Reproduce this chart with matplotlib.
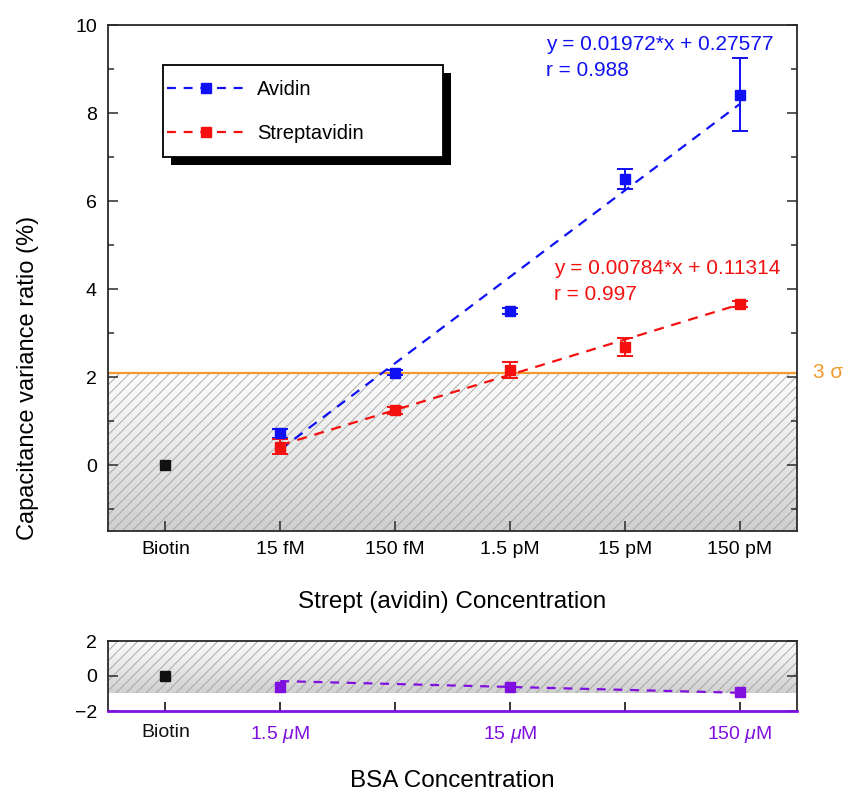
import matplotlib
matplotlib.use('Agg')
import matplotlib.pyplot as plt
import numpy as np
from matplotlib.lines import Line2D
from matplotlib.collections import LineCollection
from matplotlib.patches import Rectangle
from matplotlib.legend_handler import HandlerLine2D
import matplotlib.patheffects as pe
from matplotlib.colors import LinearSegmentedColormap

plt.rcParams['font.family'] = ['Liberation Sans', 'DejaVu Sans']
plt.rcParams['mathtext.fontset'] = 'custom'
plt.rcParams['mathtext.it'] = 'Liberation Sans:italic'
plt.rcParams['mathtext.rm'] = 'Liberation Sans'

# ---------------- data ----------------
categories = ['Biotin', '15 fM', '150 fM', '1.5 pM', '15 pM', '150 pM']
biotin_value = [0.0]
avidin = [0.72, 2.10, 3.50, 6.50, 8.42]
avidin_err = [0.10, 0.06, 0.07, 0.22, 0.82]
strept = [0.42, 1.24, 2.15, 2.68, 3.65]
strept_err = [0.16, 0.07, 0.18, 0.20, 0.07]
avidin_fit = [0.35, 8.20]   # fitted line values at 15 fM and 150 pM
strept_fit = [0.45, 3.65]
threshold = 2.1             # 3 sigma

bsa_categories = ['Biotin', '1.5 $\\mu$M', '', '15 $\\mu$M', '', '150 $\\mu$M']
bsa_positions = [1, 3, 5]
bsa_values = [-0.62, -0.60, -0.93]
bsa_fit = [-0.29, -0.96]
bsa_threshold = -0.95

blue = '#1010f5'
red = '#f51010'
purple = '#8010e0'
orange = '#f39a2e'
spine_c = '#2a2a2a'

grad_cmap = LinearSegmentedColormap.from_list('g', ['#cfcfcf', '#e8e8e8', '#fcfcfc'])
hatch_c = '#a0a0a0'

fig = plt.figure(figsize=(8.46, 7.91), dpi=100)
W, H = 846, 791
ax = fig.add_axes([108 / W, 1 - 531 / H, 689 / W, 506 / H])
ax2 = fig.add_axes([108 / W, 1 - 711 / H, 689 / W, 70 / H])


def shaded_band(a, y_lo, y_hi, spacing_px=10.0):
    ymin, ymax = a.get_ylim()
    xmin, xmax = a.get_xlim()
    a.imshow(np.linspace(0, 1, 256).reshape(-1, 1), extent=(xmin, xmax, y_lo, y_hi),
             origin='lower', cmap=grad_cmap, aspect='auto', zorder=0)
    a.set_xlim(xmin, xmax)
    a.set_ylim(ymin, ymax)
    pos = a.get_position()
    wp, hp = pos.width * W, pos.height * H
    segs = []
    for c in np.arange(-hp, wp + spacing_px, spacing_px):
        segs.append([(c / wp, 0.0), ((c + hp) / wp, 1.0)])
    lc = LineCollection(segs, colors=hatch_c, linewidths=0.6, transform=a.transAxes,
                        zorder=1)
    a.add_collection(lc)
    y0f = (y_lo - ymin) / (ymax - ymin)
    y1f = (y_hi - ymin) / (ymax - ymin)
    clip = Rectangle((0, y0f), 1, y1f - y0f, transform=a.transAxes)
    lc.set_clip_path(clip)


class LoweredHandler(HandlerLine2D):
    def create_artists(self, legend, orig_handle, xdescent, ydescent, width, height,
                       fontsize, trans):
        return super().create_artists(legend, orig_handle, xdescent, ydescent + 8.5,
                                      width, height, fontsize, trans)


x_idx = np.arange(len(categories))
xc = x_idx[1:]

# ---------- main panel ----------
ax.set_xlim(-0.5, 5.5)
ax.set_ylim(-1.5, 10)
shaded_band(ax, -1.5, threshold)
ax.axhline(threshold, color=orange, lw=1.6, zorder=2)

ax.plot([xc[0], xc[-1]], avidin_fit, color=blue, lw=1.6, dashes=(4.5, 3.5), zorder=3)
ax.plot([xc[0], xc[-1]], strept_fit, color=red, lw=1.6, dashes=(4.5, 3.5), zorder=3)

ax.errorbar(xc, avidin, yerr=avidin_err, fmt='s', color=blue, ms=7.2,
            capsize=5.5, elinewidth=1.4, capthick=1.4, zorder=5)
ax.errorbar(xc, strept, yerr=strept_err, fmt='s', color=red, ms=7.2,
            capsize=5.5, elinewidth=1.4, capthick=1.4, zorder=5)
ax.plot([x_idx[0]], biotin_value, 's', color='#111111', ms=7.2, zorder=5)

ax.set_xticks(x_idx, categories)
ax.set_yticks([0, 2, 4, 6, 8, 10])
ax.set_yticks([-1, 1, 3, 5, 7, 9], minor=True)
ax.tick_params(axis='x', direction='in', length=7.5, width=1.1, pad=7,
               labelsize=14, color=spine_c, top=False)
ax.tick_params(axis='y', which='major', direction='in', length=7.5, width=1.1,
               pad=8, labelsize=14, right=True, color=spine_c)
ax.tick_params(axis='y', which='minor', direction='in', length=4, width=1.1,
               right=True, color=spine_c)
for s in ax.spines.values():
    s.set_color(spine_c)
    s.set_linewidth(1.3)

ax.set_xlabel('Strept (avidin) Concentration', fontsize=17.5)
ax.xaxis.label.set_va('center')
ax.xaxis.set_label_coords(0.5, (531 - 602) / 506)
ax.set_ylabel('Capacitance variance ratio (%)', fontsize=17)
ax.yaxis.label.set_va('center')
ax.yaxis.label.set_ha('center')
ax.yaxis.set_label_coords((28 - 108) / 689, (531 - 378) / 506)

ax.text((546 - 108) / 689, (531 - 35) / 506, 'y = 0.01972*x + 0.27577\nr = 0.988',
        transform=ax.transAxes, color=blue, fontsize=15, va='top', ha='left',
        linespacing=1.45)
ax.text((554 - 108) / 689, (531 - 259) / 506, 'y = 0.00784*x + 0.11314\nr = 0.997',
        transform=ax.transAxes, color=red, fontsize=15, va='top', ha='left',
        linespacing=1.45)
ax.text(1.023, threshold, '3 σ', transform=ax.get_yaxis_transform(), color=orange,
        fontsize=15, va='center', ha='left')

handles = [Line2D([], [], color=blue, marker='s', ms=7.2, lw=1.6, dashes=(4, 3.5)),
           Line2D([], [], color=red, marker='s', ms=7.2, lw=1.6, dashes=(4, 3.5))]
x0 = (163 - 108) / 689
x1 = (443 - 108) / 689
y1 = (531 - 65) / 506
y0 = (531 - 157) / 506
leg = ax.legend(handles, ['Avidin', 'Streptavidin'], loc='upper left',
                bbox_to_anchor=(x0, y0, x1 - x0, y1 - y0), mode='expand',
                fontsize=14.5, handlelength=3.9, handleheight=2.68, handletextpad=0.55,
                labelspacing=0.2, borderpad=0.2, borderaxespad=0,
                fancybox=False, framealpha=1, edgecolor='black',
                handler_map={Line2D: LoweredHandler()})
leg.get_frame().set_linewidth(1.3)
leg.get_frame().set_path_effects([
    pe.SimplePatchShadow(offset=(5.5, -5.5), shadow_rgbFace='black', alpha=1),
    pe.Normal()])
leg.set_zorder(10)

# ---------- BSA panel ----------
ax2.set_xlim(-0.5, 5.5)
ax2.set_ylim(-2, 2)
shaded_band(ax2, bsa_threshold, 2)
ax2.plot([bsa_positions[0], bsa_positions[-1]], bsa_fit, color=purple, lw=1.6,
         dashes=(4, 3.5), zorder=3)
ax2.plot(bsa_positions, bsa_values, 's', color=purple, ms=7.2, zorder=5)
ax2.plot([0], biotin_value, 's', color='#111111', ms=7.2, zorder=5)

ax2.set_xticks(np.arange(len(bsa_categories)), bsa_categories)
ax2.set_yticks([-2, 0, 2])
ax2.tick_params(axis='x', direction='in', length=6.5, width=1.1, pad=9.5,
                labelsize=14, top=False)
ax2.tick_params(axis='y', direction='in', length=7.5, width=1.1, pad=8,
                labelsize=14, right=True, color=spine_c)
tick_colors = ['#111111'] + [purple] * (len(bsa_categories) - 1)
for t, c in zip(ax2.xaxis.get_major_ticks(), tick_colors):
    t.tick1line.set_color(c)
    t.label1.set_color(c)
for s in ax2.spines.values():
    s.set_color(spine_c)
    s.set_linewidth(1.3)
ax2.spines['bottom'].set_color(purple)
ax2.spines['bottom'].set_linewidth(2.0)
ax2.set_xlabel('BSA Concentration', fontsize=17.5)
ax2.xaxis.label.set_va('center')
ax2.xaxis.set_label_coords(0.5, (711 - 781) / 70)

fig.savefig('out.png', dpi=100)
